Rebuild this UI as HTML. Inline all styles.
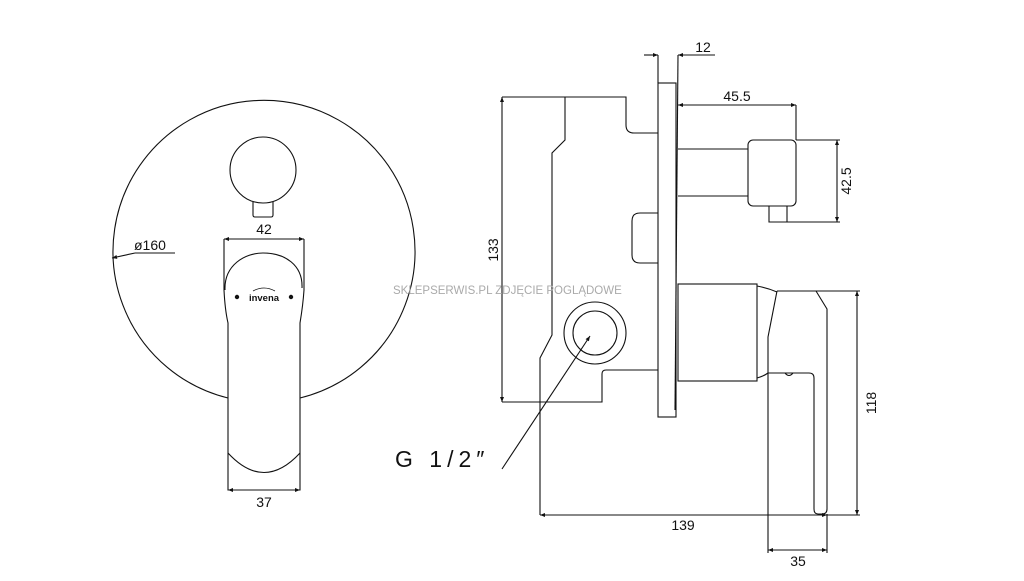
<!DOCTYPE html>
<html><head><meta charset="utf-8"><style>
html,body{margin:0;padding:0;background:#fff;width:1024px;height:581px;overflow:hidden}
svg{display:block}
text{font-family:"Liberation Sans",sans-serif;fill:#111}
</style></head><body>
<svg width="1024" height="581" viewBox="0 0 1024 581" xmlns="http://www.w3.org/2000/svg">
<defs>
<marker id="a" viewBox="0 0 10 10" refX="10" refY="5" markerWidth="9" markerHeight="5" orient="auto-start-reverse" markerUnits="userSpaceOnUse"><path d="M0,1 L10,5 L0,9 Z" fill="#111"/></marker>
</defs>
<g fill="none" stroke="#111" stroke-width="1.1">
<path d="M228,398 A151,151 0 1 1 300,398"/>
<circle cx="263" cy="170" r="33"/>
<path d="M253,202 L253,215 Q253,217 255,217 L271,217 Q273,217 273,215 L273,202"/>
<line x1="224" y1="239" x2="304" y2="239" marker-start="url(#a)" marker-end="url(#a)"/>
<path d="M224,239 L224,290 Q225,310 228,323 L228,490 L300,490 L300,323 Q303,305 304,290 L304,239"/>
<path d="M225,290 C224,265 245,253 263,253 C285,253 303,265 302,288"/>
<path d="M228,453 Q264,492 300,453"/>
<line x1="228" y1="490" x2="300" y2="490" marker-start="url(#a)" marker-end="url(#a)"/>
<path d="M175,253 L135,253"/>
<line x1="135" y1="253" x2="112" y2="258" marker-end="url(#a)"/>
<rect x="658" y="83" width="18" height="334"/>
<line x1="678" y1="55" x2="675" y2="410"/>
<line x1="658" y1="55" x2="658" y2="83"/>
<line x1="644" y1="55" x2="658" y2="55" marker-end="url(#a)"/>
<line x1="715" y1="55" x2="678" y2="55" marker-end="url(#a)"/>
<path d="M502,97 L626,97 L626,125 Q626,133 634,133 L658,133"/>
<path d="M565,97 L565,140 L552,153 L552,335 L540,358 L540,515"/>
<path d="M502,402 L602,402 L602,374 Q602,370 606,370 L658,370"/>
<line x1="502" y1="97" x2="502" y2="402" marker-start="url(#a)" marker-end="url(#a)"/>
<path d="M658,213 L640,213 Q632,213 632,221 L632,255 Q632,263 640,263 L658,263"/>
<circle cx="595" cy="333" r="31"/>
<circle cx="595" cy="333" r="22"/>
<line x1="502" y1="469" x2="590" y2="336" marker-end="url(#a)"/>
<line x1="678" y1="149" x2="748" y2="149"/>
<line x1="678" y1="196" x2="748" y2="196"/>
<rect x="748" y="140" width="48" height="66" rx="5"/>
<path d="M769,206 L769,222 L787,222 L787,206"/>
<line x1="796" y1="140" x2="840" y2="140"/>
<line x1="787" y1="222" x2="840" y2="222"/>
<line x1="837" y1="140" x2="837" y2="222" marker-start="url(#a)" marker-end="url(#a)"/>
<line x1="678" y1="105" x2="796" y2="105" marker-start="url(#a)" marker-end="url(#a)"/>
<line x1="796" y1="105" x2="796" y2="140"/>
<rect x="678" y="284" width="79" height="97"/>
<path d="M757,286 Q768,288 777,292"/>
<path d="M757,378 Q764,376 768,373"/>
<path d="M777,291 L816,291 L827,309 L827,509 Q827,514 822,514 L818,514 Q814,514 814,509 L814,378 Q814,373 809,373 L768,373 L768,337 L777,291"/>
<path d="M785,373 Q789,378 793,373"/>
<line x1="768" y1="373" x2="768" y2="553"/>
<line x1="827" y1="514" x2="827" y2="553"/>
<line x1="816" y1="291" x2="860" y2="291"/>
<line x1="827" y1="515" x2="860" y2="515"/>
<line x1="857" y1="291" x2="857" y2="515" marker-start="url(#a)" marker-end="url(#a)"/>
<line x1="540" y1="515" x2="827" y2="515" marker-start="url(#a)" marker-end="url(#a)"/>
<line x1="768" y1="550" x2="827" y2="550" marker-start="url(#a)" marker-end="url(#a)"/>
</g>
<circle cx="237" cy="297" r="2.2" fill="#111"/>
<circle cx="291" cy="297" r="2.2" fill="#111"/>
<path d="M253,291 Q264,285 275,291" fill="none" stroke="#111" stroke-width="0.8"/>
<text x="264" y="301" font-size="9.5" font-weight="bold" text-anchor="middle">invena</text>
<text x="264" y="234" font-size="14" text-anchor="middle">42</text>
<text x="264" y="507" font-size="14" text-anchor="middle">37</text>
<text x="134" y="250" font-size="14">ø160</text>
<text x="703" y="52" font-size="14" text-anchor="middle">12</text>
<text x="737" y="101" font-size="14" text-anchor="middle">45.5</text>
<text x="683" y="530" font-size="14" text-anchor="middle">139</text>
<text x="798" y="566" font-size="14" text-anchor="middle">35</text>
<text transform="translate(498,250) rotate(-90)" font-size="14" text-anchor="middle">133</text>
<text transform="translate(851,181) rotate(-90)" font-size="14" text-anchor="middle">42.5</text>
<text transform="translate(876,403) rotate(-90)" font-size="14" text-anchor="middle">118</text>
<text x="395" y="467" font-size="23" letter-spacing="5">G 1/2″</text>
<text x="393" y="294" font-size="11.5" style="fill:#aaa">SKLEPSERWIS.PL ZDJĘCIE POGLĄDOWE</text>
</svg>
</body></html>
